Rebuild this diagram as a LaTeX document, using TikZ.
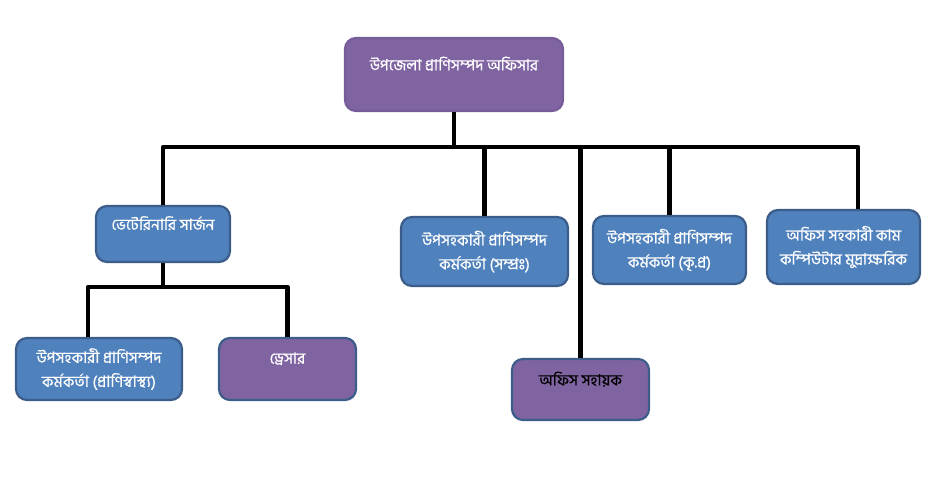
\documentclass[tikz,border=0pt]{standalone}
\usepackage{fontspec}
\newfontfamily\bangla[Script=Bengali, FakeBold=0.6]{Hind Siliguri}
\definecolor{boxblue}{HTML}{4F81BD}
\definecolor{boxpurple}{HTML}{8064A2}
\definecolor{boxline}{HTML}{3C5D8A}
\definecolor{topline}{HTML}{765C98}
\begin{document}
\begin{tikzpicture}[x=1pt, y=-1pt,
                post/.style={draw=boxline, line width=2.2pt, rounded corners=11pt, align=center, text=white, inner sep=2pt, font=\bangla\fontsize{15.5}{24}\selectfont},
                bluepost/.style={post, fill=boxblue},
                purplepost/.style={post, fill=boxpurple},
                oneline/.style={text depth=22pt},
                wire/.style={line width=4.5pt, line join=round}
            ]
            \useasboundingbox (0,0) rectangle (929,503);

            % Nodes
            \node[purplepost, draw=topline, oneline, minimum width=218pt, minimum height=73pt] (ulo) at (454,74.5) {উপজেলা প্রাণিসম্পদ অফিসার};
            \node[bluepost, oneline, minimum width=134pt, minimum height=56pt] (vs) at (163,234) {ভেটেরিনারি সার্জন};
            \node[bluepost, minimum width=167pt, minimum height=69pt] (sub1) at (484.5,251.5) {উপসহকারী প্রাণিসম্পদ\\কর্মকর্তা (সম্প্রঃ)};
            \node[bluepost, minimum width=153pt, minimum height=68pt] (sub2) at (669.5,250) {উপসহকারী প্রাণিসম্পদ\\কর্মকর্তা (কৃ.প্র)};
            \node[bluepost, minimum width=153pt, minimum height=74pt] (comp) at (843.5,247) {অফিস সহকারী কাম\\কম্পিউটার মুদ্রাক্ষরিক};
            \node[bluepost, minimum width=166pt, minimum height=62pt] (health) at (99,369) {উপসহকারী প্রাণিসম্পদ\\কর্মকর্তা (প্রাণিস্বাস্থ্য)};
            \node[purplepost, oneline, minimum width=137pt, minimum height=62pt] (dresser) at (287.5,369) {ড্রেসার};
            \node[purplepost, oneline, text=black, minimum width=137pt, minimum height=61pt] (asst) at (580.5,389.5) {অফিস সহায়ক};

            % Bus lines
            \coordinate (bus) at (500,147);
            \coordinate (subbus) at (166,287);
            \coordinate (compTop) at ([xshift=14.5pt]comp.north);
            \coordinate (healthTop) at ([xshift=-11pt]health.north);

            % Edges
            \draw[wire] (vs.north) |- (bus) -| (compTop);
            \draw[wire] (ulo.south) -- (ulo.south |- bus);
            \draw[wire] (sub1.north) -- (sub1.north |- bus);
            \draw[wire] (asst.north) -- (asst.north |- bus);
            \draw[wire] (sub2.north) -- (sub2.north |- bus);
            \draw[wire] (vs.south) -- (vs.south |- subbus);
            \draw[wire] (healthTop) |- (subbus) -| (dresser.north);

            \end{tikzpicture}
\end{document}
